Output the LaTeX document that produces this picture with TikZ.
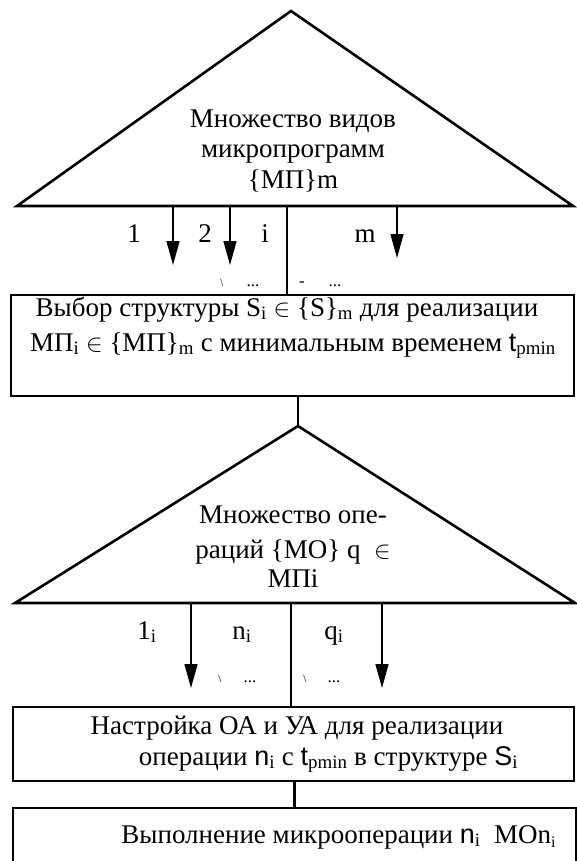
\documentclass[tikz,border=0pt]{standalone}
\usepackage{fontspec}
\setmainfont{Liberation Serif}
\newfontfamily\arialf{Liberation Sans}
\usetikzlibrary{arrows.meta}
\newcommand\lo[1]{\textsubscript{#1}}
\begin{document}
\begin{tikzpicture}[x=1pt,y=-1pt,
  frame/.style={line width=2.6pt, line join=miter},
  trunk/.style={line width=2.6pt},
  shaft/.style={line width=1.4pt, -{Triangle[length=24pt,width=13pt]}},
  blk/.style={draw, line width=2.6pt, inner sep=0pt, outer sep=0pt},
  txt/.style={font=\fontsize{27}{32}\selectfont, inner sep=0pt, anchor=base},
  dotsmark/.style={font=\fontsize{17}{20}\selectfont, inner sep=0pt, anchor=base},
  tickmark/.style={font=\fontsize{11}{13}\selectfont, inner sep=0pt, anchor=base}]
\useasboundingbox (0,0) rectangle (576,861);

% upper set: kinds of microprograms
\coordinate (t1top) at (291,11);
\coordinate (t1l) at (17,206);
\coordinate (t1r) at (573,206);
\draw[frame] (t1l) -- (t1top) -- (t1r) -- cycle;
\node[txt] (t1a) at (293,128) {Множество видов};
\node[txt] (t1b) at (293,158) {микропрограмм};
\node[txt] (t1c) at (293,189) {\{МП\}m};

% choice of structure
\node[blk, minimum width=563pt, minimum height=101pt] (box1) at (292.5,345.5) {};
\node[txt] (b1a) at (287,316) {Выбор структуры S\lo{i} $\in$ \{S\}\lo{m} для реализации};
\node[txt] (b1b) at (293,351) {МП\lo{i} $\in$ \{МП\}\lo{m} с минимальным временем {\arialf t}\lo{pmin}};

% branches of the upper set
\coordinate (a1s) at (173,206); \coordinate (a1e) at (173,265);
\coordinate (a2s) at (230,206); \coordinate (a2e) at (230,265);
\coordinate (ams) at (397,206); \coordinate (ame) at (397,258);
\coordinate (tr1) at (287,206);
\draw[shaft] (a1s) -- (a1e);
\draw[shaft] (a2s) -- (a2e);
\draw[shaft] (ams) -- (ame);
\draw[trunk] (tr1) -- (box1.north -| tr1);
\node[txt] (l1) at (134,242) {1};
\node[txt] (l2) at (205,242) {2};
\node[txt] (li) at (265,242) {i};
\node[txt] (lm) at (365,242) {m};
\node[tickmark] (k1) at (222,286) {\textbackslash};
\node[dotsmark] (d1) at (253,286) {...};
\node[dotsmark] (k2) at (302,286) {-};
\node[dotsmark] (d2) at (335,286) {...};

% lower set: operations
\coordinate (t2top) at (298,426);
\coordinate (t2l) at (15,603);
\coordinate (t2r) at (575,603);
\draw[frame] (t2l) -- (t2top) -- (t2r) -- cycle;
\draw[trunk] (box1.south -| t2top) -- (t2top);
\node[txt] (t2a) at (293,523) {Множество опе-};
\node[txt] (t2b) at (293,558) {раций \{МО\} q \ $\in$};
\node[txt] (t2c) at (293,587) {МПi};

% setup of the units
\node[blk, minimum width=561pt, minimum height=74pt] (box2) at (293.5,744) {};
\node[txt] (b2a) at (297,734) {Настройка ОА и УА для реализации};
\node[txt] (b2b) at (328.5,765) {операции {\arialf n}\lo{i} c {\arialf t}\lo{pmin} в структуре {\arialf S}\lo{i}};

% branches of the lower set
\coordinate (c1s) at (191,603); \coordinate (c1e) at (191,688);
\coordinate (cqs) at (382,603); \coordinate (cqe) at (382,688);
\coordinate (tr2) at (291,603);
\draw[shaft] (c1s) -- (c1e);
\draw[shaft] (cqs) -- (cqe);
\draw[trunk] (tr2) -- (box2.north -| tr2);
\node[txt] (m1) at (147,639) {1\lo{i}};
\node[txt] (mn) at (242,639) {n\lo{i}};
\node[txt] (mq) at (334,639) {q\lo{i}};
\node[tickmark] (k3) at (220,682) {\textbackslash};
\node[dotsmark] (d3) at (250,682) {...};
\node[tickmark] (k4) at (305,682) {\textbackslash};
\node[dotsmark] (d4) at (334,682) {...};

% execution
\node[blk, minimum width=563pt, minimum height=74pt] (box3) at (294.5,845) {};
\draw[trunk] (box2.south -| box3.north) -- (box3.north);
\node[txt] (b3) at (338.5,843) {Выполнение микрооперации {\arialf n}\lo{i} \ МОn\raisebox{-0.35ex}{\fontsize{16}{18}\selectfont i}};
\end{tikzpicture}
\end{document}
